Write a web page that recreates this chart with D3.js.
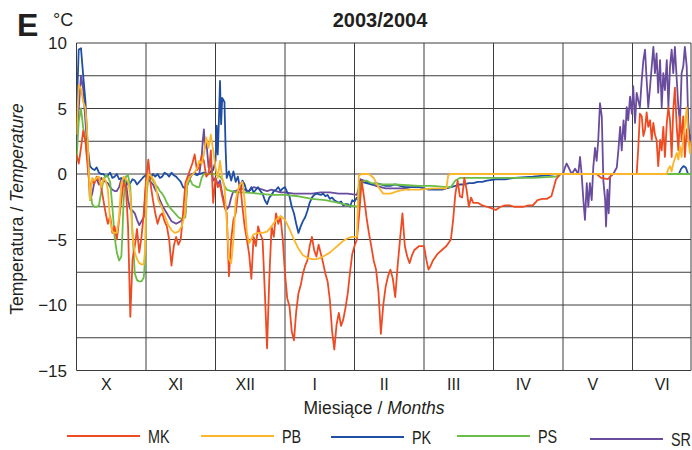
<!DOCTYPE html>
<html lang="pl">
<head>
<meta charset="UTF-8">
<title>2003/2004</title>
<script src="https://d3js.org/d3.v7.min.js"></script>
<style>
  body { margin: 0; background: #fff; }
  svg { display: block; font-family: "Liberation Sans", Arial, Helvetica, sans-serif; fill: #231f20; }
  .grid line { stroke: #3c3c3c; stroke-width: 1; }
  .series { fill: none; stroke-width: 1.8; stroke-linejoin: round; }
</style>
</head>
<body>
<svg width="692" height="450"></svg>
<script>
// months drawn with equal width, day 0 = 1 October 2003
const months = ["X", "XI", "XII", "I", "II", "III", "IV", "V", "VI"];
const monthStartDays = [0, 31, 61, 92, 123, 152, 183, 213, 244, 274];
const yTicks = [10, 5, 0, -5, -10, -15];
const yGrid = [10, 7.5, 5, 2.5, 0, -2.5, -5, -7.5, -10, -12.5, -15];
const names = ["MK", "PB", "PK", "PS", "SR"];
const colors = ["#ef4b23", "#fdb62a", "#1f4ea3", "#6bbd45", "#6a4c9e"];

// [day, temperature °C]
const MK = [[0,1.5],[1,0.8],[2,2.0],[3,3.3],[4,2.5],[5,0.5],[6,-1.2],[7,-0.5],[8,-0.7],[9,-0.2],[10,-0.5],[11,-1.0],[12,-2.0],[13,-3.0],[14,-3.8],[15,-3.2],[16,-4.5],[17,-4.0],[18,-5.0],[19,-3.5],[20,-2.0],[21,-0.6],[22,-1.0],[23,-4.0],[24,-10.9],[25,-6.5],[26,-5.5],[27,-4.2],[28,-6.0],[29,-4.8],[30,-3.0],[31,-0.5],[32,1.1],[33,-0.8],[34,-2.0],[35,-3.0],[36,-3.8],[37,-3.2],[38,-3.0],[39,-3.6],[40,-4.0],[41,-5.0],[42,-7.0],[43,-5.5],[44,-4.8],[45,-5.4],[46,-5.0],[47,-3.0],[48,-0.7],[49,-0.2],[50,0.3],[51,0.8],[52,1.5],[53,0.3],[54,0.5],[55,1.4],[56,1.0],[57,-0.2],[58,0.0],[59,1.8],[60,-2.2],[61,-0.3],[62,-1.0],[63,-0.8],[64,-1.7],[65,-2.5],[66,-3.0],[67,-7.8],[68,-5.0],[69,-3.5],[70,-3.0],[71,-1.5],[72,-0.7],[73,-2.5],[74,-4.0],[75,-5.0],[76,-6.1],[77,-8.0],[78,-4.8],[79,-5.5],[80,-4.0],[81,-4.6],[82,-5.0],[83,-9.0],[84,-13.3],[85,-8.0],[86,-4.0],[87,-4.8],[88,-3.0],[89,-3.8],[90,-3.3],[91,-5.0],[92,-7.6],[93,-9.5],[94,-10.1],[95,-12.0],[96,-12.7],[97,-10.5],[98,-9.1],[99,-8.5],[100,-7.6],[101,-7.0],[102,-6.6],[103,-5.5],[104,-4.8],[105,-5.8],[106,-6.3],[107,-5.4],[108,-6.1],[109,-6.8],[110,-7.6],[111,-8.2],[112,-9.6],[113,-12.0],[114,-13.4],[115,-11.5],[116,-10.6],[117,-11.6],[118,-11.1],[119,-10.2],[120,-9.1],[121,-7.5],[122,-6.1],[123,-5.5],[124,-5.0],[125,-3.0],[126,-0.5],[127,-1.8],[128,-3.3],[129,-4.5],[130,-5.5],[131,-6.6],[132,-7.3],[133,-9.0],[134,-12.2],[135,-10.0],[136,-8.6],[137,-7.8],[138,-7.3],[139,-8.0],[140,-9.4],[141,-7.0],[142,-5.0],[143,-3.0],[144,-5.5],[145,-6.3],[146,-6.8],[147,-6.2],[148,-5.8],[150,-5.5],[152,-5.5],[153,-6.5],[154,-7.3],[155,-7.0],[156,-6.6],[158,-6.1],[160,-5.8],[162,-5.5],[164,-5.0],[165,-3.5],[166,-1.5],[167,-0.5],[168,-1.7],[169,-1.8],[170,-0.3],[171,-1.2],[172,-2.5],[173,-1.8],[174,-2.2],[176,-2.2],[178,-2.4],[180,-2.5],[182,-2.6],[184,-2.75],[186,-2.5],[188,-2.4],[190,-2.4],[192,-2.5],[194,-2.5],[196,-2.5],[198,-2.4],[200,-2.4],[202,-2.0],[204,-1.9],[206,-1.9],[208,-1.7],[210,-0.4],[212,0],[220,0],[228,0],[230,-0.3],[233,-0.4],[235,0],[240,0],[245.8,0],[246.5,2.0],[247.2,4.6],[248,4.4],[248.7,2.9],[249.4,3.4],[250.1,4.7],[250.8,3.6],[251.6,4.1],[252.3,2.6],[253,3.9],[253.7,3.0],[254.4,2.6],[255.1,0.6],[255.9,2.6],[256.6,1.8],[257.3,3.6],[258,1.3],[258.8,3.9],[259.5,5.1],[260.2,4.1],[260.9,1.3],[261.6,4.9],[262.3,6.6],[263.1,3.6],[263.8,1.8],[264.5,4.4],[265.2,2.6],[265.9,4.4],[266.6,1.3],[267.4,3.4],[268.1,2.6],[268.8,2.1],[269.5,2.5]];

const PB = [[0,3.0],[1,6.8],[2,6.5],[3,5.5],[4,5.0],[5,2.5],[6,-2.0],[7,-0.3],[8,-0.5],[9,-0.3],[10,-0.2],[11,-1.0],[12,-0.3],[13,-0.5],[14,-1.2],[15,-3.6],[16,-4.4],[17,-4.5],[18,-4.5],[19,-3.3],[20,-0.7],[21,-0.2],[22,-0.4],[23,-0.6],[24,-1.5],[25,-4.8],[26,-6.0],[27,-6.5],[28,-6.8],[29,-6.9],[30,-6.9],[30.6,-5.8],[31.3,-0.7],[32,0],[33.5,-0.2],[35,-0.7],[36.3,-2.0],[37.7,-2.5],[39.1,-3.2],[40.6,-3.9],[42.1,-4.3],[43.5,-4.5],[45,-4.4],[46.4,-4.0],[47.9,-3.0],[48.6,-0.7],[50,-0.2],[51.4,0],[53,0.4],[54,1.0],[55,0.8],[56,1.5],[57,2.8],[58,2.0],[59,3.0],[60,1.8],[61,0.5],[62,-0.3],[63,1.0],[64,-0.3],[65,-1.0],[66,-3.5],[67,-6.5],[68,-6.8],[69,-5.0],[70,-2.0],[71,-1.2],[72,-0.8],[73,-0.6],[74,-2.0],[75,-4.5],[76,-5.3],[78,-4.6],[80,-4.5],[82,-4.5],[84,-4.4],[86,-4.0],[88,-3.5],[90,-3.2],[92,-3.5],[94,-4.2],[96,-5.0],[98,-5.7],[100,-6.2],[102,-6.4],[104,-6.5],[106,-6.5],[108,-6.4],[110,-6.2],[112,-6.0],[114,-5.7],[116,-5.4],[118,-5.1],[120,-4.9],[122,-4.8],[124,-4.8],[124.8,-0.1],[126,0],[129,0],[131,-0.3],[133,-1.0],[135,-1.5],[138,-1.5],[141,-1.3],[144,-1.2],[150,-1.2],[156,-1.1],[162,-1.1],[162.8,-0.1],[164,0],[200,0],[258.8,0],[259.5,0.4],[260.2,0.6],[260.9,0.2],[261.6,0.8],[263.1,1.6],[263.8,1.1],[264.5,2.1],[265.2,1.3],[265.9,2.9],[266.6,3.6],[267.4,5.1],[268.1,2.6],[268.8,1.6],[269.5,2.5]];

const PK = [[0,4.5],[1,9.5],[2,9.6],[3,7.5],[4,5.5],[5,2.0],[6,0.6],[7,0.4],[8,0.3],[9,0.5],[10,0.1],[11,0.0],[12,0.0],[13,-0.2],[14,-0.1],[15,0.1],[16,-0.3],[17,-0.2],[18,0.0],[19,-0.4],[20,-0.3],[21,-0.6],[22,-0.5],[23,-0.8],[24,-0.7],[25,-0.4],[26,-0.5],[27,-0.8],[28,-0.6],[29,-0.4],[30,-0.2],[31,-0.1],[32,0.0],[33,-0.3],[34,0.0],[35,-0.2],[36,0.0],[37,-0.3],[38,-0.2],[39,0.1],[40,0.0],[41,-0.2],[42,0.1],[43,-0.1],[44,-0.2],[45,-0.4],[46,-0.6],[47,-1.0],[48,-1.1],[49,-0.8],[50,-0.3],[51,0.0],[52,0.0],[53,-0.1],[54,0.0],[56,0.1],[58,0.0],[59,0.2],[60,0.3],[61,1.0],[61.5,3.7],[62,1.5],[62.5,4.0],[63,7.1],[63.5,3.8],[64,5.8],[65,5.5],[65.5,2.0],[66,-0.3],[67,0.2],[68,-0.5],[69,0.2],[70,-0.6],[71,-0.2],[72,-1.2],[73,-0.5],[74,-0.8],[75,-1.4],[76,-1.3],[77,-1.0],[78,-1.4],[79,-1.2],[80,-1.0],[81,-1.3],[82,-1.5],[83,-2.0],[84,-2.3],[85,-1.8],[86,-1.6],[87,-1.3],[88,-1.2],[89,-1.0],[90,-1.3],[91,-1.1],[92,-1.0],[93,-1.4],[94,-1.7],[95,-2.5],[96,-3.0],[97,-3.8],[98,-4.5],[99,-4.0],[100,-3.6],[101,-3.3],[102,-2.8],[103,-2.2],[104,-1.8],[105,-1.6],[106,-1.5],[108,-1.6],[109,-1.5],[110,-1.7],[111,-1.6],[112,-1.9],[113,-1.8],[114,-2.0],[115,-2.1],[116,-2.2],[117,-2.1],[118,-2.4],[119,-2.3],[120,-2.3],[121,-2.5],[122,-2.0],[123,-2.1],[124,-1.8],[124.6,-2.0],[125.5,-0.5],[126,-0.6],[128,-0.7],[130,-0.8],[132,-0.7],[134,-0.8],[136,-0.9],[138,-0.9],[140,-0.8],[142,-0.9],[144,-1.0],[146,-1.0],[148,-1.0],[150,-1.0],[152,-1.1],[154,-1.2],[156,-1.2],[158,-1.2],[160,-1.2],[162,-1.1],[164,-1.0],[166,-0.9],[168,-0.8],[170,-0.8],[172,-0.7],[174,-0.7],[176,-0.6],[178,-0.6],[180,-0.5],[184,-0.4],[188,-0.4],[192,-0.3],[200,-0.2],[206,-0.1],[210,0],[264,0],[265,0.4],[266,0.6],[267,0.5],[268,0],[269.5,0]];

const PS = [[0,1.0],[1,4.0],[2,5.0],[3,3.5],[4,2.5],[5,1.0],[6,-1.0],[7,-2.3],[8,-2.5],[9,-2.5],[10,-2.4],[11,-1.4],[12,-0.5],[13,-0.1],[14,-0.2],[15,-0.6],[16,-2.5],[17,-4.8],[18,-6.0],[19,-6.6],[20,-6.3],[20.5,-4.5],[21,-2.0],[22,-0.2],[23,-0.1],[24,-1.0],[25,-4.5],[26,-7.6],[27,-8.1],[28,-8.2],[29,-8.2],[30,-7.9],[30.6,-6.5],[31.3,-1.5],[32,-0.3],[33,-0.2],[34,-0.5],[35,-0.8],[36,-1.0],[37,-1.3],[38,-1.5],[39,-1.8],[40,-2.2],[41,-2.5],[42,-2.7],[43,-2.9],[44,-3.1],[45,-3.3],[46,-3.4],[47,-3.4],[48,-3.3],[48.7,-1.0],[49.5,-0.3],[50,-0.4],[51,-0.8],[52,-0.9],[53,-1.0],[54,-1.0],[55,-0.3],[56,0],[60,0],[62,-0.1],[63,-0.2],[64,-0.4],[65,-0.9],[66,-1.2],[68,-1.3],[70,-1.4],[74,-1.4],[80,-1.5],[86,-1.6],[92,-1.6],[98,-1.7],[104,-1.9],[110,-2.0],[116,-2.2],[120,-2.4],[124.8,-2.5],[125.5,-0.6],[128,-0.5],[130,-0.7],[134,-0.8],[140,-0.8],[150,-0.9],[156,-0.9],[162,-1.0],[164,-1.0],[166,-0.5],[168,-0.3],[180,-0.3],[200,-0.3],[210,-0.2],[212,0],[269.5,0]];

const SR = [[0,2.0],[1,5.0],[2,7.5],[3,6.5],[4,4.0],[5,1.5],[6,-2.0],[7,-1.5],[8,-0.6],[9,-0.4],[10,-0.8],[11,-0.3],[12,-0.5],[13,-0.6],[14,-0.7],[15,-1.0],[16,-1.2],[17,-1.3],[18,-1.3],[19,-1.0],[20,-0.4],[21,-0.3],[22,-0.5],[23,-2.0],[24,-2.7],[25,-2.8],[26,-3.0],[27,-3.5],[28,-3.9],[29,-3.6],[30,-3.3],[31,-0.8],[32,-0.4],[33,-0.6],[34,-0.8],[35,-1.2],[36,-1.5],[37,-2.0],[38,-2.4],[39,-2.7],[40,-3.0],[41,-3.3],[42,-3.6],[43,-3.7],[44,-3.8],[45,-3.7],[46,-3.6],[47,-3.4],[48,-3.0],[48.7,-0.7],[50,-0.1],[51,0],[52,0.1],[53,0],[54,0],[55,1.2],[55.5,2.5],[56,3.4],[56.5,2.0],[57,2.6],[58,0.5],[59,0.8],[60,-0.5],[61,-0.3],[62,-0.8],[63,-0.5],[64,-1.5],[65,-2.2],[66,-2.7],[67,-2.5],[68,-1.8],[69,-1.3],[70,-1.3],[72,-1.1],[74,-1.2],[76,-1.3],[78,-1.0],[80,-1.1],[82,-1.2],[84,-1.3],[86,-1.2],[88,-1.3],[90,-1.4],[92,-1.4],[96,-1.5],[100,-1.5],[104,-1.5],[108,-1.4],[112,-1.4],[116,-1.5],[120,-1.5],[124,-1.6],[124.8,-1.0],[125.5,-0.4],[127,-0.5],[130,-0.8],[132,-0.9],[134,-1.0],[136,-1.1],[140,-1.1],[144,-1.1],[146,-1.2],[147,null],[213,0],[213.9,0.5],[214.6,0.8],[215.8,0.4],[216.9,0],[218.4,0.4],[219.8,0],[220.6,1.3],[221.3,0],[222.1,-2.0],[222.8,-3.5],[223.6,-0.7],[224.3,-2.5],[225,-0.7],[225.8,-2.0],[226.5,0.5],[227.3,2.0],[228,1.0],[228.7,2.5],[229.5,5.4],[230.3,4.4],[231,-0.5],[231.8,-2.0],[232.2,-4.0],[232.8,-1.2],[233.4,-3.0],[234,-0.2],[235.4,0],[237,0.5],[237.7,1.8],[238.5,3.6],[239.2,1.8],[240,4.1],[240.7,2.6],[241.4,5.1],[242.1,4.1],[242.9,5.9],[243.7,4.6],[244.3,6.7],[245.1,3.9],[245.8,6.2],[246.5,5.6],[247.2,5.1],[248,7.2],[248.7,8.7],[249.4,9.5],[250.1,7.2],[250.8,5.1],[251.6,6.7],[252.3,8.2],[253,9.7],[253.7,7.7],[254.4,9.2],[255.1,6.2],[255.9,8.7],[256.6,5.1],[257.3,7.7],[258,6.4],[258.8,8.7],[259.5,5.1],[260.2,8.2],[260.9,9.5],[261.6,7.7],[262.3,9.7],[263.1,7.2],[263.8,5.1],[264.5,3.9],[265.2,7.7],[265.9,8.2],[266.6,9.7],[267.4,8.2],[268.1,3.9],[268.8,2.6],[269.5,3.0]];

const svg = d3.select("svg");
const plotL = 76.5, plotR = 691, plotT = 43, plotB = 370.5, monthW = 69.5;

const x = d3.scaleLinear()
    .domain(monthStartDays)
    .range(monthStartDays.map((d, i) => plotL + i * monthW));
const y = d3.scaleLinear().domain([-15, 10]).range([plotB, plotT]);

svg.append("defs").append("clipPath").attr("id", "plot")
  .append("rect").attr("x", plotL).attr("y", plotT - 2)
    .attr("width", plotR - plotL).attr("height", plotB - plotT + 4);

// grid
const grid = svg.append("g").attr("class", "grid");
grid.selectAll(".h").data(yGrid).join("line").attr("class", "h")
    .attr("x1", plotL).attr("x2", plotR)
    .attr("y1", d => y(d)).attr("y2", d => y(d));
grid.selectAll(".v").data(monthStartDays.slice(0, 9)).join("line").attr("class", "v")
    .attr("x1", d => x(d)).attr("x2", d => x(d))
    .attr("y1", plotT).attr("y2", plotB);
grid.append("line").attr("x1", plotR).attr("x2", plotR).attr("y1", plotT).attr("y2", plotB);

// series, bottom to top
const byName = {MK, PB, PK, PS, SR};
const line = d3.line()
    .defined(d => d[1] !== null)
    .x(d => x(d[0])).y(d => y(d[1]));
const order = ["SR", "PK", "PS", "MK", "PB"];
svg.append("g").attr("clip-path", "url(#plot)")
  .selectAll("path").data(order).join("path")
    .attr("class", "series")
    .attr("stroke", n => colors[names.indexOf(n)])
    .attr("d", n => line(byName[n]));

// y tick labels
svg.append("g").selectAll("text").data(yTicks).join("text")
    .attr("x", 67).attr("y", d => y(d) + 6)
    .attr("text-anchor", "end").attr("font-size", 17)
    .text(d => d < 0 ? "\u2212" + Math.abs(d) : d);

// month labels
svg.append("g").selectAll("text").data(months).join("text")
    .attr("x", (d, i) => (x(monthStartDays[i]) + x(monthStartDays[i + 1])) / 2 - 5)
    .attr("y", 390).attr("text-anchor", "middle").attr("font-size", 16)
    .text(d => d);

// titles
svg.append("text").attr("x", 17).attr("y", 36)
    .attr("font-size", 32).attr("font-weight", "bold").text("E");
svg.append("text").attr("x", 53).attr("y", 26).attr("font-size", 18).text("\u00b0C");
svg.append("text").attr("x", 380).attr("y", 27).attr("text-anchor", "middle")
    .attr("font-size", 20).attr("font-weight", "bold").text("2003/2004");

const yl = svg.append("text").attr("transform", "translate(23,209) rotate(-90)")
    .attr("text-anchor", "middle").attr("font-size", 17.5);
yl.append("tspan").text("Temperatura / ");
yl.append("tspan").attr("font-style", "italic").text("Temperature");

const xl = svg.append("text").attr("x", 374).attr("y", 414)
    .attr("text-anchor", "middle").attr("font-size", 17.5);
xl.append("tspan").text("Miesi\u0105ce / ");
xl.append("tspan").attr("font-style", "italic").text("Months");

// legend
const legendX = [67, 201, 331, 457, 590];
const legendY = [436, 436, 437, 436, 439];
const lg = svg.append("g").selectAll("g").data(names).join("g")
    .attr("transform", (d, i) => `translate(${legendX[i]},${legendY[i]})`);
lg.append("line").attr("x1", 0).attr("x2", 73)
    .attr("stroke", (d, i) => colors[i]).attr("stroke-width", 2.2);
lg.append("text").attr("transform", "translate(81,6.5) scale(0.8,1)")
    .attr("font-size", 18).text(d => d);
</script>
</body>
</html>
